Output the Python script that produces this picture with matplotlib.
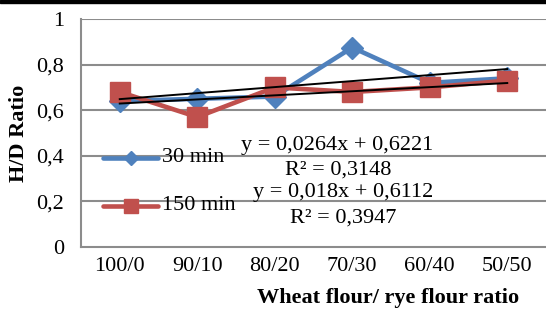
import matplotlib
matplotlib.use("Agg")
import matplotlib.pyplot as plt
from matplotlib.lines import Line2D
import numpy as np

categories = ["100/0", "90/10", "80/20", "70/30", "60/40", "50/50"]
min30 = [0.64, 0.65, 0.66, 0.875, 0.72, 0.74]
min150 = [0.68, 0.57, 0.70, 0.68, 0.70, 0.73]
yticks = [0, 0.2, 0.4, 0.6, 0.8, 1.0]
ytick_labels = ["0", "0,2", "0,4", "0,6", "0,8", "1"]
series_names = ["30 min", "150 min"]
eq30 = ["y = 0,0264x + 0,6221", "R² = 0,3148"]
eq150 = ["y = 0,018x + 0,6112", "R² = 0,3947"]
trend30 = (0.0264, 0.6221)
trend150 = (0.018, 0.6112)

plt.rcParams['font.family'] = ['Liberation Serif', 'DejaVu Serif']
FS = 16
W, H = 546, 309
fig = plt.figure(figsize=(W/100, H/100), dpi=100)
L, R, T, B = 81, 546, 19, 247
ax = fig.add_axes([L/W, 1-B/H, (R-L)/W, (B-T)/H])

x = np.arange(1, len(categories)+1)
blue = "#4F81BD"
red = "#C0504D"
grid_c = "#8c8c8c"

ax.set_xlim(0.5, len(categories)+0.5)
ax.set_ylim(0, 1)
for yv in yticks[1:]:
    ax.axhline(yv, color=grid_c, lw=1.5, zorder=0)

ax.plot(x, min30, color=blue, lw=3.3, marker='D', ms=11, zorder=3,
        solid_capstyle='round', solid_joinstyle='round')
ax.plot(x, min150, color=red, lw=3.3, marker='s', ms=14, zorder=4,
        solid_capstyle='round', solid_joinstyle='round')
xs = np.array([1, len(categories)])
ax.plot(xs, trend30[0]*xs + trend30[1], color='black', lw=1.4, zorder=5)
ax.plot(xs, trend150[0]*xs + trend150[1], color='black', lw=1.4, zorder=5)

ax.set_yticks(yticks)
ax.set_yticklabels(ytick_labels, fontsize=FS)
ax.set_xticks(x)
ax.set_xticklabels(categories, fontsize=FS)
ax.tick_params(length=0)
ax.tick_params(axis='y', pad=12)
ax.tick_params(axis='x', pad=7)
for s in ['top', 'right']:
    ax.spines[s].set_visible(False)
for s in ['left', 'bottom']:
    ax.spines[s].set_color(grid_c)
    ax.spines[s].set_linewidth(1.5)

fig.text(19/W, 1-133/H, "H/D Ratio", fontsize=FS, fontweight='bold',
         rotation=90, ha='center', va='center')
fig.text(388/W, 1-298/H, "Wheat flour/ rye flour ratio", fontsize=FS,
         fontweight='bold', ha='center', va='center')

# equations
def ftxt(px, py, s):
    fig.text(px/W, 1-py/H, s, fontsize=FS, ha='center', va='center')
ftxt(337, 146, eq30[0])
ftxt(338, 170, eq30[1])
ftxt(343, 193, eq150[0])
ftxt(343, 218, eq150[1])

# legend (manual placement)
leg_specs = [(series_names[0], blue, 'D', 7, 158), (series_names[1], red, 's', 10, 206)]
for name, c, m, ms, py in leg_specs:
    yy = 1 - py/H
    fig.add_artist(Line2D([103/W, 158/W], [yy, yy], color=c, lw=3.3,
                          solid_capstyle='round', transform=fig.transFigure))
    fig.add_artist(Line2D([130.5/W], [yy], color=c, marker=m, ms=ms,
                          transform=fig.transFigure))
    fig.text(162/W, yy, name, fontsize=FS, ha='left', va='center')

# top black border
fig.add_artist(plt.Rectangle((0, 1-3/H), 1, 3/H, transform=fig.transFigure,
                             color='black'))

fig.savefig("out.png", dpi=100)
